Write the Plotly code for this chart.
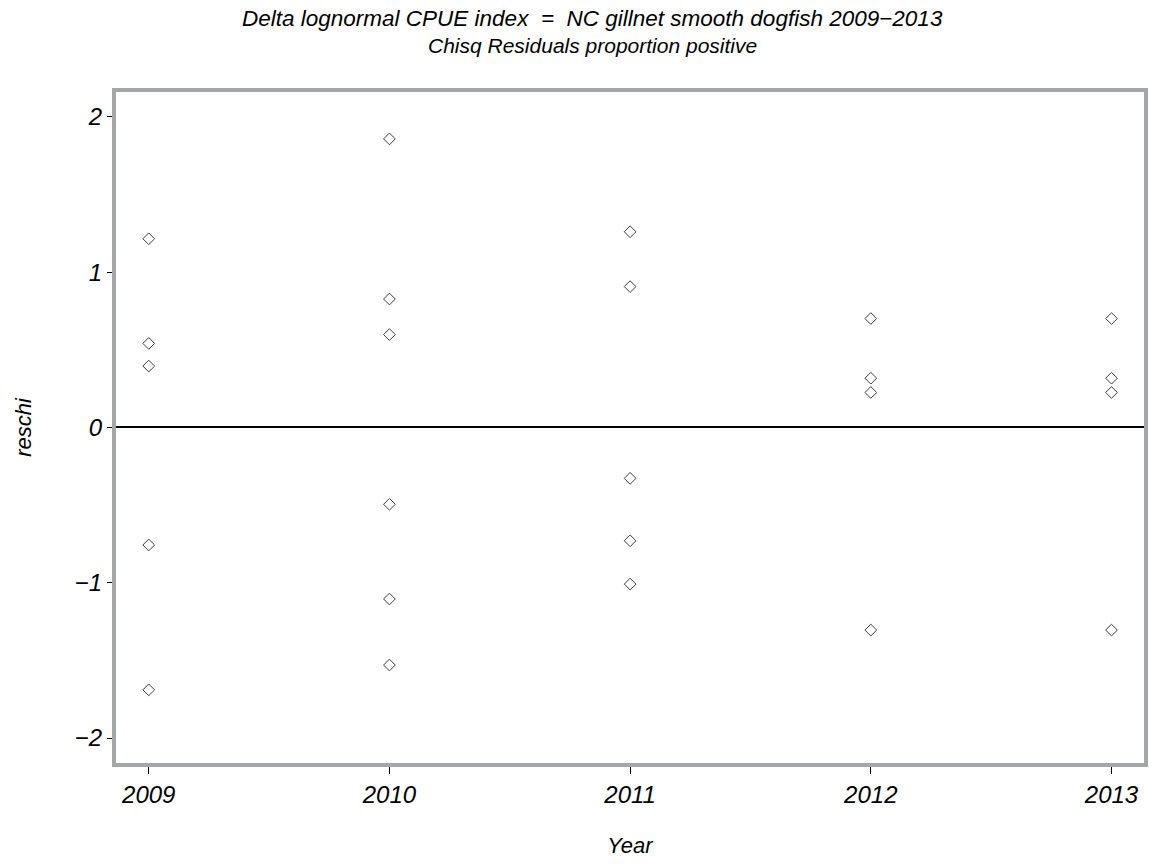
import plotly.graph_objects as go

# Chi-square residuals of the proportion-positive model, by year
years_2009 = [2009, 2009, 2009, 2009, 2009]
reschi_2009 = [1.215, 0.541, 0.395, -0.757, -1.690]

years_2010 = [2010, 2010, 2010, 2010, 2010, 2010]
reschi_2010 = [1.858, 0.827, 0.598, -0.495, -1.105, -1.530]

years_2011 = [2011, 2011, 2011, 2011, 2011]
reschi_2011 = [1.260, 0.907, -0.328, -0.730, -1.009]

years_2012 = [2012, 2012, 2012, 2012]
reschi_2012 = [0.701, 0.317, 0.225, -1.305]

years_2013 = [2013, 2013, 2013, 2013]
reschi_2013 = [0.701, 0.317, 0.225, -1.305]

x_ticks = [2009, 2010, 2011, 2012, 2013]
y_ticks = [-2, -1, 0, 1, 2]
y_tick_text = ["\u22122", "\u22121", "0", "1", "2"]

title_lines = [
    "Delta lognormal CPUE index \u00a0=\u00a0 NC gillnet smooth dogfish 2009\u22122013",
    "Chisq Residuals proportion positive",
]

year = years_2009 + years_2010 + years_2011 + years_2012 + years_2013
reschi = reschi_2009 + reschi_2010 + reschi_2011 + reschi_2012 + reschi_2013

FONT = "Liberation Sans, Arial, sans-serif"
FRAME = "#a3a7aa"
W, H = 1160, 867
ML, MR, MT, MB = 116, 12, 92, 103

fig = go.Figure()
fig.add_trace(go.Scatter(
    x=year, y=reschi, mode="markers",
    marker=dict(symbol="diamond-open", size=9, color="#3a3a3a",
                line=dict(width=1, color="#3a3a3a")),
    showlegend=False,
))

# two-line title, placed in page pixels
for text, ypix, size in zip(title_lines, [18, 45], [22.5, 21]):
    fig.add_annotation(
        text=f"<i>{text}</i>", xref="paper", yref="paper",
        x=(594 - ML) / (W - ML - MR),
        y=1 + (MT - ypix) / (H - MT - MB),
        xanchor="center", yanchor="middle", showarrow=False,
        font=dict(family=FONT, size=size, color="black"),
    )

fig.update_layout(
    width=W, height=H,
    margin=dict(l=ML, r=MR, t=MT, b=MB),
    paper_bgcolor="white", plot_bgcolor="white",
    font=dict(family=FONT, color="black"),
    xaxis=dict(
        range=[2008.864, 2013.135],
        tickmode="array", tickvals=x_ticks,
        ticktext=[f"<i>{v}</i>" for v in x_ticks],
        ticks="outside", ticklen=7, tickwidth=1, tickcolor="black",
        tickfont=dict(family=FONT, size=24),
        showline=True, linecolor=FRAME, linewidth=4, mirror=True,
        showgrid=False, zeroline=False,
        title=dict(text="<i>Year</i>", font=dict(family=FONT, size=22), standoff=32),
    ),
    yaxis=dict(
        range=[-2.161, 2.160],
        tickmode="array", tickvals=y_ticks,
        ticktext=[f"<i>{t}</i>" for t in y_tick_text],
        ticks="outside", ticklen=5, tickwidth=1, tickcolor="black",
        tickfont=dict(family=FONT, size=24),
        showline=True, linecolor=FRAME, linewidth=4, mirror=True,
        showgrid=False,
        zeroline=True, zerolinecolor="black", zerolinewidth=1.5,
        title=dict(text="<i>reschi</i>", font=dict(family=FONT, size=22), standoff=38),
    ),
)

fig.write_html("out.html")
